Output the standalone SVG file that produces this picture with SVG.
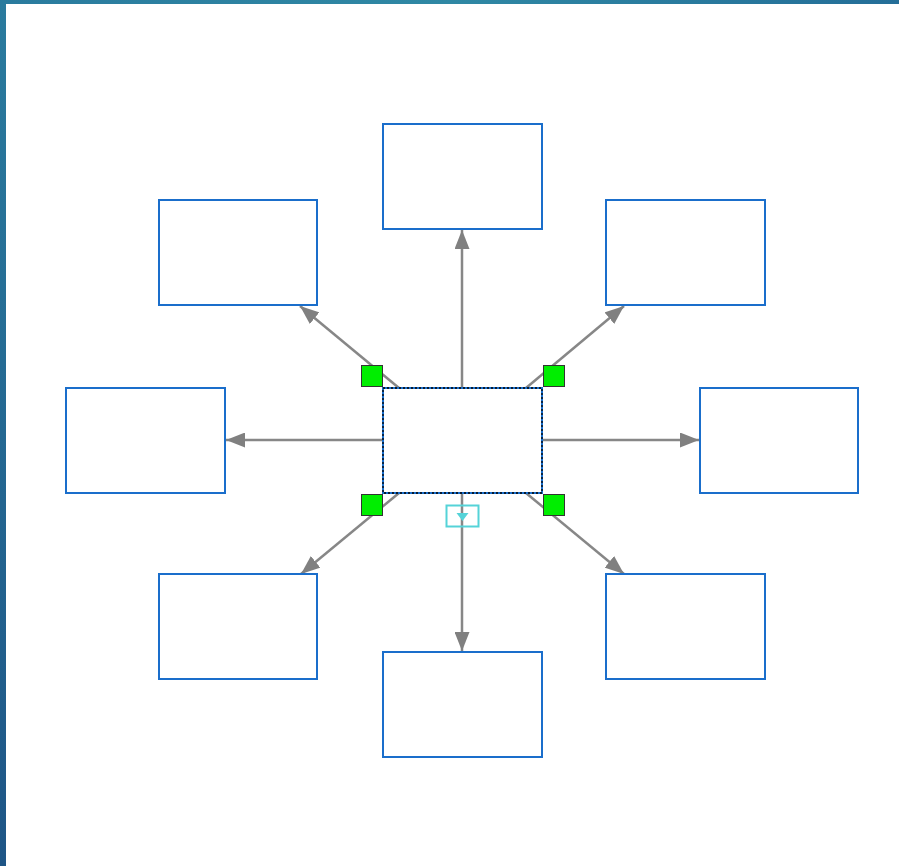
<svg xmlns="http://www.w3.org/2000/svg" width="899" height="866" viewBox="0 0 899 866">
<defs>
<linearGradient id="gTop" x1="0" y1="0" x2="1" y2="0">
<stop offset="0" stop-color="#2a7b9e"/><stop offset="0.5" stop-color="#2f88a4"/><stop offset="1" stop-color="#246e98"/>
</linearGradient>
<linearGradient id="gLeft" x1="0" y1="0" x2="0" y2="1">
<stop offset="0" stop-color="#2a7b9e"/><stop offset="1" stop-color="#1e5586"/>
</linearGradient>
<marker id="arr" viewBox="0 0 10 10" refX="10" refY="5" markerWidth="19" markerHeight="15" markerUnits="userSpaceOnUse" orient="auto" preserveAspectRatio="none">
<path d="M0,0 L10,5 L0,10 z" fill="#808080"/>
</marker>
<style>
.box{fill:#fff;stroke:#1a6ecb;stroke-width:2}
.con{stroke:#878787;stroke-width:2.5;fill:none}
.h{fill:#00ee00;stroke:#333;stroke-width:1}
</style>
</defs>
<rect width="899" height="866" fill="#fff"/>
<rect x="0" y="0" width="899" height="4" fill="url(#gTop)"/>
<rect x="0" y="0" width="6" height="866" fill="url(#gLeft)"/>
<g id="connectors">
<path class="con" d="M462,388 L462,230" marker-end="url(#arr)"/>
<path class="con" d="M399,388 L300,306" marker-end="url(#arr)"/>
<path class="con" d="M526,388 L624,306" marker-end="url(#arr)"/>
<path class="con" d="M383,440 L226,440" marker-end="url(#arr)"/>
<path class="con" d="M542,440 L699,440" marker-end="url(#arr)"/>
<path class="con" d="M399,493 L301,574" marker-end="url(#arr)"/>
<path class="con" d="M526,493 L624,574" marker-end="url(#arr)"/>
<path class="con" d="M462,493 L462,651" marker-end="url(#arr)"/>
</g>
<g id="n-top"><rect class="box" x="383" y="124" width="159" height="105"/></g>
<g id="n-topleft"><rect class="box" x="159" y="200" width="158" height="105"/></g>
<g id="n-topright"><rect class="box" x="606" y="200" width="159" height="105"/></g>
<g id="n-left"><rect class="box" x="66" y="388" width="159" height="105"/></g>
<g id="n-right"><rect class="box" x="700" y="388" width="158" height="105"/></g>
<g id="n-bottomleft"><rect class="box" x="159" y="574" width="158" height="105"/></g>
<g id="n-bottomright"><rect class="box" x="606" y="574" width="159" height="105"/></g>
<g id="n-bottom"><rect class="box" x="383" y="652" width="159" height="105"/></g>
<g id="n-center">
<rect class="box" x="383" y="388" width="159" height="105"/>
<rect x="383" y="388" width="159" height="105" fill="none" stroke="#000" stroke-width="1.3" stroke-dasharray="2,2"/>
</g>
<g id="selection">
<rect class="h" x="361.5" y="365.5" width="21" height="21"/>
<rect class="h" x="543.5" y="365.5" width="21" height="21"/>
<rect class="h" x="361.5" y="494.5" width="21" height="21"/>
<rect class="h" x="543.5" y="494.5" width="21" height="21"/>
<rect x="446.5" y="505.5" width="32" height="21" fill="none" stroke="#55d3d8" stroke-width="2"/>
<path d="M456.5,513 L468.5,513 L462.5,521 z" fill="#55d3d8"/>
</g>
</svg>
